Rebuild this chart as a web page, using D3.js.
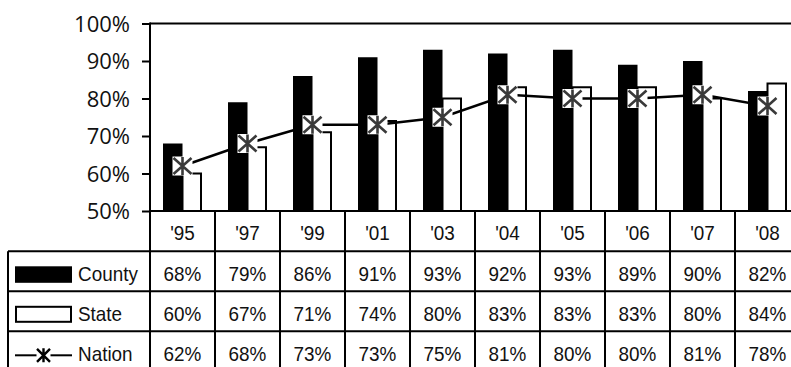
<!DOCTYPE html>
<html>
<head>
<meta charset="utf-8">
<script src="https://cdn.jsdelivr.net/npm/d3@7"></script>
<style>
  html, body { margin: 0; padding: 0; background: #fff; }
  svg { display: block; }
</style>
</head>
<body>
<svg id="chart" width="791" height="367"></svg>
<script>
// Survey results by year
const years  = ["'95", "'97", "'99", "'01", "'03", "'04", "'05", "'06", "'07", "'08"];
const county = [68, 79, 86, 91, 93, 92, 93, 89, 90, 82];
const state  = [60, 67, 71, 74, 80, 83, 83, 83, 80, 84];
const nation = [62, 68, 73, 73, 75, 81, 80, 80, 81, 78];
const yTicks = [50, 60, 70, 80, 90, 100];
const seriesNames = ["County", "State", "Nation"];

const svg = d3.select("#chart");
const tableFont = "'Liberation Sans', Arial, sans-serif";
const tableSize = 21;
const squeeze = 0.9;   // condensed table lettering
const axisFont = "'Open Sans', 'Noto Sans', sans-serif";

const plotLeft = 150, plotTop = 23.5, plotBottom = 211, colW = 65;
const plotRight = plotLeft + colW * years.length;

const x = d3.scaleBand().domain(years).range([plotLeft, plotRight]).paddingInner(0).paddingOuter(0);
const xs = d3.scaleBand().domain(["County", "State"]).range([0, x.bandwidth()])
  .paddingInner(0).paddingOuter(0.667);
const y = d3.scaleLinear().domain([50, 100]).range([plotBottom, plotTop]);

// Plot frame (top edge)
svg.append("line")
  .attr("x1", plotLeft).attr("x2", plotRight + 10)
  .attr("y1", y(100)).attr("y2", y(100))
  .attr("stroke", "#000").attr("stroke-width", 2);

// County bars
svg.append("g").selectAll("rect")
  .data(county)
  .join("rect")
  .attr("x", (d, i) => x(years[i]) + xs("County"))
  .attr("y", d => y(d))
  .attr("width", xs.bandwidth())
  .attr("height", d => y(50) - y(d))
  .attr("fill", "#000");

// State bars
svg.append("g").selectAll("rect")
  .data(state)
  .join("rect")
  .attr("x", (d, i) => x(years[i]) + xs("State"))
  .attr("y", d => y(d))
  .attr("width", xs.bandwidth() - 1)
  .attr("height", d => y(50) - y(d))
  .attr("fill", "#fff")
  .attr("stroke", "#000")
  .attr("stroke-width", 2);

// Nation line
const cx = (i) => x(years[i]) + x.bandwidth() / 2;
const line = d3.line().x((d, i) => cx(i)).y(d => y(d));
svg.append("path")
  .datum(nation)
  .attr("d", line)
  .attr("fill", "none")
  .attr("stroke", "#000")
  .attr("stroke-width", 2.5);

// Nation markers: white box with a starred cross
const markers = svg.append("g").selectAll("g")
  .data(nation)
  .join("g")
  .attr("transform", (d, i) => `translate(${cx(i)},${y(d)})`);
markers.append("rect")
  .attr("x", -10).attr("y", -9.5).attr("width", 20).attr("height", 19)
  .attr("fill", "#fff");
markers.append("path")
  .attr("d", "M-9,-8L9,8M-9,8L9,-8M0,-9L0,9")
  .attr("stroke", "#3a3a3a")
  .attr("stroke-width", 2.6)
  .attr("fill", "none");

// Y axis
const yAxis = d3.axisLeft(y)
  .tickValues(yTicks)
  .tickSize(8)
  .tickPadding(12)
  .tickFormat(d => d + "%");
const ga = svg.append("g")
  .attr("transform", `translate(${plotLeft},0)`)
  .call(yAxis);
ga.select(".domain").remove();
ga.selectAll(".tick line").attr("stroke", "#000").attr("stroke-width", 2);
ga.selectAll(".tick text")
  .attr("font-family", axisFont)
  .attr("font-size", 22)
  .attr("dy", "0.36em")
  .attr("fill", "#111");
svg.append("line")
  .attr("x1", plotLeft).attr("x2", plotLeft)
  .attr("y1", y(100) - 1).attr("y2", 367)
  .attr("stroke", "#000").attr("stroke-width", 2);

// Data table below the plot
const headerBottom = 251.3;
const rowH = 40;
const tableLeft = 8;
const rowTops = seriesNames.map((s, i) => headerBottom + i * rowH);

// Horizontal rules
svg.append("line")
  .attr("x1", plotLeft).attr("x2", plotRight + 10)
  .attr("y1", plotBottom).attr("y2", plotBottom)
  .attr("stroke", "#000").attr("stroke-width", 2);
svg.append("g").selectAll("line")
  .data(rowTops)
  .join("line")
  .attr("x1", tableLeft).attr("x2", plotRight + 10)
  .attr("y1", d => d).attr("y2", d => d)
  .attr("stroke", "#000").attr("stroke-width", 2);

// Vertical rules
svg.append("line")
  .attr("x1", tableLeft).attr("x2", tableLeft)
  .attr("y1", headerBottom).attr("y2", 367)
  .attr("stroke", "#000").attr("stroke-width", 2);
svg.append("g").selectAll("line")
  .data(years)
  .join("line")
  .attr("x1", d => x(d) + x.bandwidth()).attr("x2", d => x(d) + x.bandwidth())
  .attr("y1", plotBottom).attr("y2", 367)
  .attr("stroke", "#000").attr("stroke-width", 2);

// Table lettering helper: text placed by transform so it can be condensed
function cellText(sel, anchor) {
  return sel
    .attr("text-anchor", anchor)
    .attr("font-family", tableFont)
    .attr("font-size", tableSize)
    .attr("fill", "#111");
}

// Year header
cellText(svg.append("g").selectAll("text")
  .data(years)
  .join("text")
  .attr("transform", d => `translate(${x(d) + x.bandwidth() / 2},${(plotBottom + headerBottom) / 2 + 8.5}) scale(${squeeze},1)`)
  .text(d => d), "middle");

// Value rows
const rows = [county, state, nation];
rows.forEach((vals, r) => {
  cellText(svg.append("g").selectAll("text")
    .data(vals)
    .join("text")
    .attr("transform", (d, i) => `translate(${cx(i)},${rowTops[r] + rowH / 2 + 9.5}) scale(${squeeze},1)`)
    .text(d => d + "%"), "middle");
});

// Row legends
const swX = 15, swW = 57, labelX = 78;
svg.append("rect")
  .attr("x", swX).attr("y", rowTops[0] + 15).attr("width", swW).attr("height", 16.5)
  .attr("fill", "#000");
svg.append("rect")
  .attr("x", swX + 1).attr("y", rowTops[1] + 15.5).attr("width", swW - 2).attr("height", 15)
  .attr("fill", "#fff").attr("stroke", "#000").attr("stroke-width", 2);
const ly = rowTops[2] + 24;
const lmx = swX + swW / 2;
svg.append("line")
  .attr("x1", swX).attr("x2", lmx - 7).attr("y1", ly).attr("y2", ly)
  .attr("stroke", "#000").attr("stroke-width", 2);
svg.append("line")
  .attr("x1", lmx + 7).attr("x2", swX + swW).attr("y1", ly).attr("y2", ly)
  .attr("stroke", "#000").attr("stroke-width", 2);
svg.append("path")
  .attr("transform", `translate(${lmx},${ly})`)
  .attr("d", "M-6.5,-6.5L6.5,6.5M-6.5,6.5L6.5,-6.5M0,-7L0,7")
  .attr("stroke", "#000").attr("stroke-width", 2.4).attr("fill", "none");

cellText(svg.append("g").selectAll("text")
  .data(seriesNames)
  .join("text")
  .attr("transform", (d, i) => `translate(${labelX},${rowTops[i] + rowH / 2 + (i === 2 ? 10 : 9.5)}) scale(${squeeze},1)`)
  .text(d => d), "start");
</script>
</body>
</html>
